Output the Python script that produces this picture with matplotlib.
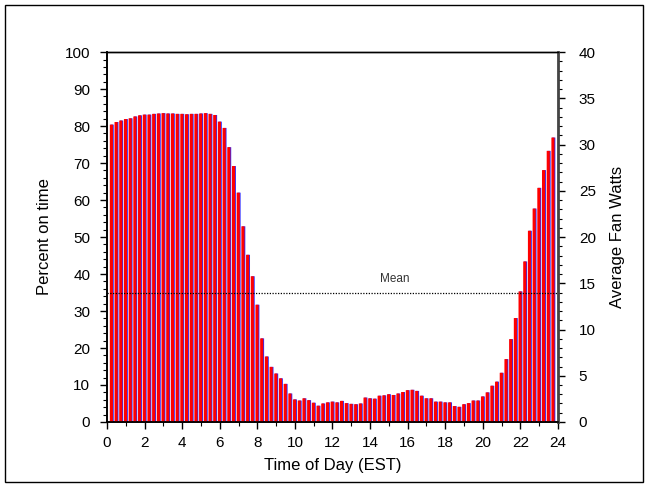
import matplotlib
matplotlib.use("Agg")
import matplotlib.pyplot as plt
from matplotlib.patches import Rectangle
from matplotlib.ticker import MultipleLocator

plt.rcParams['font.family'] = ['Liberation Sans', 'DejaVu Sans']

hours = [0.25 * (i + 1) for i in range(95)]
percent_on = [
    80.4, 81.1, 81.5, 81.9, 82.1, 82.6, 82.9, 83.1, 83.1, 83.3, 83.4, 83.5,
    83.4, 83.4, 83.3, 83.3, 83.2, 83.3, 83.3, 83.4, 83.5, 83.3, 83.0, 81.2,
    79.5, 74.3, 69.2, 62.0, 52.9, 45.2, 39.4, 31.7, 22.6, 17.7, 14.9, 13.1,
    11.8, 10.3, 7.7, 6.1, 5.8, 6.4, 5.9, 5.2, 4.4, 5.0, 5.3, 5.5,
    5.3, 5.7, 5.1, 4.9, 4.8, 5.0, 6.6, 6.4, 6.3, 7.1, 7.2, 7.5,
    7.3, 7.7, 8.1, 8.6, 8.7, 8.4, 7.1, 6.4, 6.4, 5.5, 5.5, 5.3,
    5.3, 4.3, 4.1, 4.8, 5.1, 5.8, 5.8, 6.9, 8.0, 9.8, 10.9, 13.3,
    17.0, 22.4, 28.1, 35.3, 43.4, 51.7, 57.7, 63.3, 68.1, 73.3, 76.9,
]
mean_value = 35.0
x_ticks = list(range(0, 25, 2))
left_ticks = list(range(0, 101, 10))
right_ticks = list(range(0, 41, 5))

fig = plt.figure(figsize=(6.47, 4.87), dpi=100)
ax = fig.add_axes([0.1654, 0.1335, 0.8624 - 0.1654, 0.893 - 0.1335])

blue = ax.bar([h - 0.06 for h in hours], percent_on, width=0.17, align='edge',
              color='#2a2aff', edgecolor='none', zorder=2)
red = ax.bar([h - 0.1 for h in hours], percent_on, width=0.165, align='edge',
             color='#ff0000', edgecolor='none', zorder=3)
for p in list(blue) + list(red):
    p.set_snap(False)

ax.plot([0, 24], [mean_value, mean_value], linestyle=(0, (1, 1.2)),
        color='black', linewidth=0.9, zorder=4)
ax.text(15.3, mean_value + 2.0, 'Mean', fontsize=8.5, ha='center', va='bottom',
        color='#333333')

ax.set_xlim(0, 24)
ax.set_ylim(0, 100)
ax.set_xticks(x_ticks)
ax.xaxis.set_minor_locator(MultipleLocator(1))
ax.set_yticks(left_ticks)
ax.yaxis.set_minor_locator(MultipleLocator(2))
ax.tick_params(axis='both', which='major', direction='out', length=5,
               width=1, labelsize=11, colors='black')
ax.tick_params(axis='both', which='minor', direction='out', length=3, width=0.8)
ax.tick_params(axis='y', pad=7)
ax.tick_params(axis='x', pad=5)

ax.set_xlabel('Time of Day (EST)', fontsize=12, labelpad=6)
ax.set_ylabel('Percent on time', fontsize=12, labelpad=9)

ax2 = ax.twinx()
ax2.set_ylim(0, 40)
ax2.set_yticks(right_ticks)
ax2.yaxis.set_minor_locator(MultipleLocator(1))
ax2.tick_params(axis='y', which='major', direction='out', length=5,
                width=1, labelsize=11, pad=10)
ax2.tick_params(axis='y', which='minor', direction='out', length=3, width=0.8)
ax2.set_ylabel('Average Fan Watts', fontsize=12, labelpad=10)
ax2.spines['right'].set_linewidth(2.0)
ax2.spines['right'].set_color('#444444')

for a in (ax, ax2):
    a.spines['left'].set_linewidth(1.2)
    a.spines['bottom'].set_linewidth(1.2)
    a.spines['top'].set_linewidth(1.0)

fig.patches.append(Rectangle((5 / 647, 5 / 487), 638 / 647, 477 / 487,
                             transform=fig.transFigure, fill=False,
                             edgecolor='black', linewidth=1.0))

fig.savefig('out.png', dpi=100)
